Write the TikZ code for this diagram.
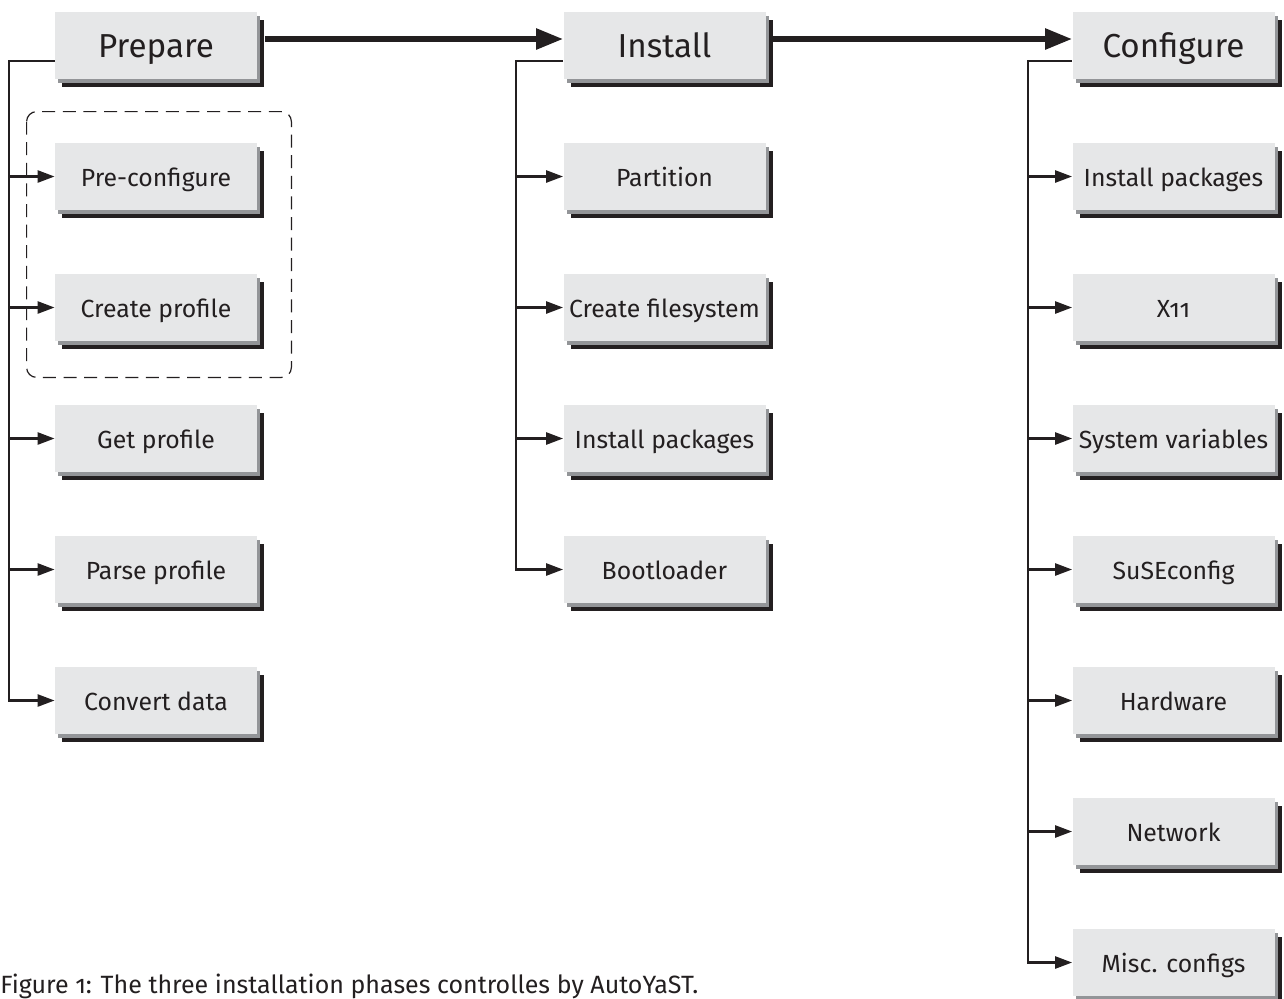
\documentclass[tikz,border=0pt]{standalone}
\usepackage{fontspec}
\setmainfont[Numbers=OldStyle]{Fira Sans}
\usetikzlibrary{arrows.meta,shadows}
\definecolor{boxfill}{HTML}{E6E7E8}
\definecolor{shadowgray}{HTML}{939598}
\definecolor{ink}{HTML}{231F20}
\tikzset{
    stagebox/.style={fill=boxfill, text=ink, inner sep=0pt,
        minimum width=101pt, minimum height=33.5pt, text depth=0pt,
        drop shadow={shadow xshift=3.7pt, shadow yshift=-4pt, fill=ink, opacity=1},
        drop shadow={shadow xshift=1.5pt, shadow yshift=-1.9pt, fill=shadowgray, opacity=1}},
    phase/.style={stagebox, text height=11.8pt, font=\fontsize{16.6}{19}\selectfont},
    task/.style={stagebox, text height=10pt, font=\fontsize{12.4}{14}\selectfont},
    branch/.style={ink, line width=1.25pt, -{Triangle[length=8.5pt,width=6pt]}},
    mainline/.style={ink, line width=2.75pt, -{Triangle[length=13.5pt,width=10pt]}},
    groupbox/.style={ink, line width=0.6pt, dash pattern=on 6.5pt off 3.8pt, rounded corners=5pt}
}
\begin{document}
\begin{tikzpicture}[x=0.5pt, y=-0.5pt]
    \useasboundingbox (0,0) rectangle (1284,998);
    % Phases
    \node[phase] (prepare) at (156,45.5) {Prepare};
    \node[phase] (install) at (664.5,45.5) {Install};
    \node[phase] (configure) at (1173.5,45.5) {Configure};
    % Prepare tasks
    \node[task] (preconf) at (156,176.5) {Pre-configure};
    \node[task] (mkprofile) at (156,307.5) {Create profile};
    \node[task] (getprofile) at (156,438.5) {Get profile};
    \node[task] (parseprofile) at (156,569.5) {Parse profile};
    \node[task] (convdata) at (156,700.5) {Convert data};
    % Install tasks
    \node[task] (partition) at (664.5,176.5) {Partition};
    \node[task] (mkfs) at (664.5,307.5) {Create filesystem};
    \node[task] (instpkg) at (664.5,438.5) {Install packages};
    \node[task] (bootloader) at (664.5,569.5) {Bootloader};
    % Configure tasks
    \node[task] (cfgpkg) at (1173.5,176.5) {Install packages};
    \node[task] (xorg) at (1173.5,307.5) {X11};
    \node[task] (sysvars) at (1173.5,438.5) {System variables};
    \node[task] (suseconfig) at (1173.5,569.5) {SuSEconfig};
    \node[task] (hardware) at (1173.5,700.5) {Hardware};
    \node[task] (network) at (1173.5,831.5) {Network};
    \node[task] (misc) at (1173.5,962.5) {Misc. configs};
    % Dashed group round the first two tasks
    \draw[groupbox] ([shift={(-14pt,15.5pt)}]preconf.north west) rectangle ([shift={(17pt,-18pt)}]mkprofile.south east);
    % Phase to phase
    \draw[mainline] ([xshift=3.7pt,yshift=3.25pt]prepare.east) -- ([yshift=3.25pt]install.west);
    \draw[mainline] ([xshift=3.7pt,yshift=3.25pt]install.east) -- ([yshift=3.25pt]configure.west);
    % Trunks
    \coordinate (trunkA) at (9,61);
    \coordinate (trunkB) at (516,61);
    \coordinate (trunkC) at (1028,61);
    \draw[branch] ([yshift=-7.75pt]prepare.west) -- (trunkA) |- (convdata.west);
    \draw[branch] ([yshift=-7.75pt]install.west) -- (trunkB) |- (bootloader.west);
    \draw[branch] ([yshift=-7.75pt]configure.west) -- (trunkC) |- (misc.west);
    \foreach \t in {preconf,mkprofile,getprofile,parseprofile}
        \draw[branch] (trunkA |- \t.west) -- (\t.west);
    \foreach \t in {partition,mkfs,instpkg}
        \draw[branch] (trunkB |- \t.west) -- (\t.west);
    \foreach \t in {cfgpkg,xorg,sysvars,suseconfig,hardware,network}
        \draw[branch] (trunkC |- \t.west) -- (\t.west);
    % Caption
    \node[anchor=base west, inner sep=0pt, text=ink, font=\fontsize{12.5}{15}\selectfont] (caption) at (0,993) {Figure 1: The three installation phases controlles by AutoYaST.};
\end{tikzpicture}
\end{document}
